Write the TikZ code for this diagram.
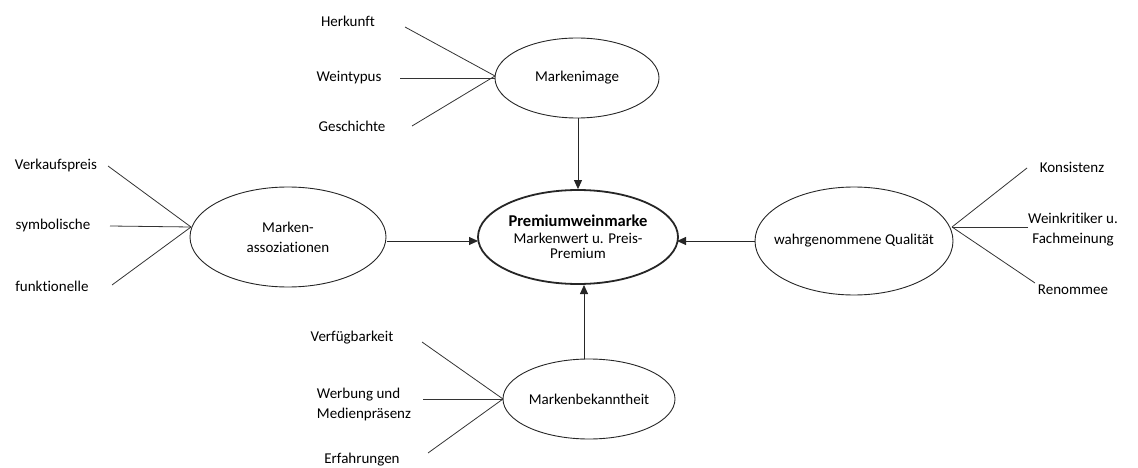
\documentclass[tikz,border=0pt]{standalone}
\usepackage{fontspec}
\setmainfont{Carlito}[Ligatures=NoCommon]
\usetikzlibrary{arrows.meta,shapes.geometric}
\begin{document}
\begin{tikzpicture}[x=1pt,y=-1pt,
  ell/.style={draw=black!85,line width=0.9pt,ellipse,minimum width=#1,inner sep=0pt,align=center,font=\fontsize{15}{18}\selectfont},
  lbl/.style={inner sep=0pt,align=center,font=\fontsize{15}{20}\selectfont},
  sat/.style={draw=black!80,line width=0.8pt},
  arr/.style={draw=black!85,line width=0.9pt,-{Triangle[length=9pt,width=8pt]}}]
\useasboundingbox (0,0) rectangle (1138,468);
% ellipses
\node[ell=164pt,minimum height=80pt] (img) at (577,78) {Markenimage};
\node[ell=200pt,minimum height=94pt,line width=1.8pt,inner xsep=-8pt] (core) at (578,237) {{\fontsize{16.5}{20}\selectfont\bfseries Premiumweinmarke}\\[-1pt]Markenwert u. Preis-\\[-3pt]Premium};
\node[ell=196pt,minimum height=100pt] (ass) at (288,237) {Marken-\\[2pt]assoziationen};
\node[ell=198pt,minimum height=108pt,inner xsep=-25pt] (qual) at (854,241) {wahrgenommene Qualität};
\node[ell=172pt,minimum height=80pt] (bek) at (589,399) {Markenbekanntheit};
% arrows
\draw[arr] (img.south -| core.north) -- (core.north);
\coordinate (assE) at (387,241);
\coordinate (coreW) at (478,241);
\draw[arr] (assE) -- (coreW);
\coordinate (qualW) at (755,241);
\coordinate (coreE) at (677,241);
\draw[arr] (qualW) -- (coreE);
\coordinate (bekN) at (584,359);
\coordinate (coreS) at (584,285);
\draw[arr] (bekN) -- (coreS);
% Markenimage satellites
\node[lbl] (herk) at (348,21) {Herkunft};
\node[lbl] (wtyp) at (349,78) {Weintypus};
\node[lbl] (gesch) at (352,126) {Geschichte};
\coordinate (h1) at (405,27); \coordinate (h2) at (400,78); \coordinate (h3) at (412,126);
\coordinate (imgW) at (495,76);
\draw[sat] (h1) -- (imgW); \draw[sat] (h2) -- (495,78); \draw[sat] (h3) -- (imgW);
% Assoziationen satellites
\node[lbl] (vkp) at (56,166) {Verkaufspreis};
\node[lbl] (sym) at (53,226) {symbolische};
\node[lbl] (fkt) at (52,286) {funktionelle};
\coordinate (a1) at (108,166); \coordinate (a2) at (110,226); \coordinate (a3) at (112,285);
\coordinate (assW) at (191,227);
\draw[sat] (a1) -- (assW); \draw[sat] (a2) -- (assW); \draw[sat] (a3) -- (assW);
% Qualitaet satellites
\node[lbl] (kons) at (1072,167) {Konsistenz};
\node[lbl] (wk) at (1073,230) {Weinkritiker u.\\Fachmeinung};
\node[lbl] (ren) at (1073,290) {Renommee};
\coordinate (q1) at (1027,168); \coordinate (q2) at (1028,227); \coordinate (q3) at (1035,283);
\coordinate (qualE) at (952,227);
\draw[sat] (q1) -- (qualE); \draw[sat] (q2) -- (qualE); \draw[sat] (q3) -- (qualE);
% Bekanntheit satellites
\node[lbl] (verf) at (352,338) {Verfügbarkeit};
\node[lbl,align=left] (werb) at (364,404) {Werbung und\\Medienpräsenz};
\node[lbl] (erf) at (362,460) {Erfahrungen};
\coordinate (b1) at (422,342); \coordinate (b2) at (423,399); \coordinate (b3) at (428,453);
\coordinate (bekW) at (503,399);
\draw[sat] (b1) -- (bekW); \draw[sat] (b2) -- (bekW); \draw[sat] (b3) -- (bekW);
\end{tikzpicture}
\end{document}
